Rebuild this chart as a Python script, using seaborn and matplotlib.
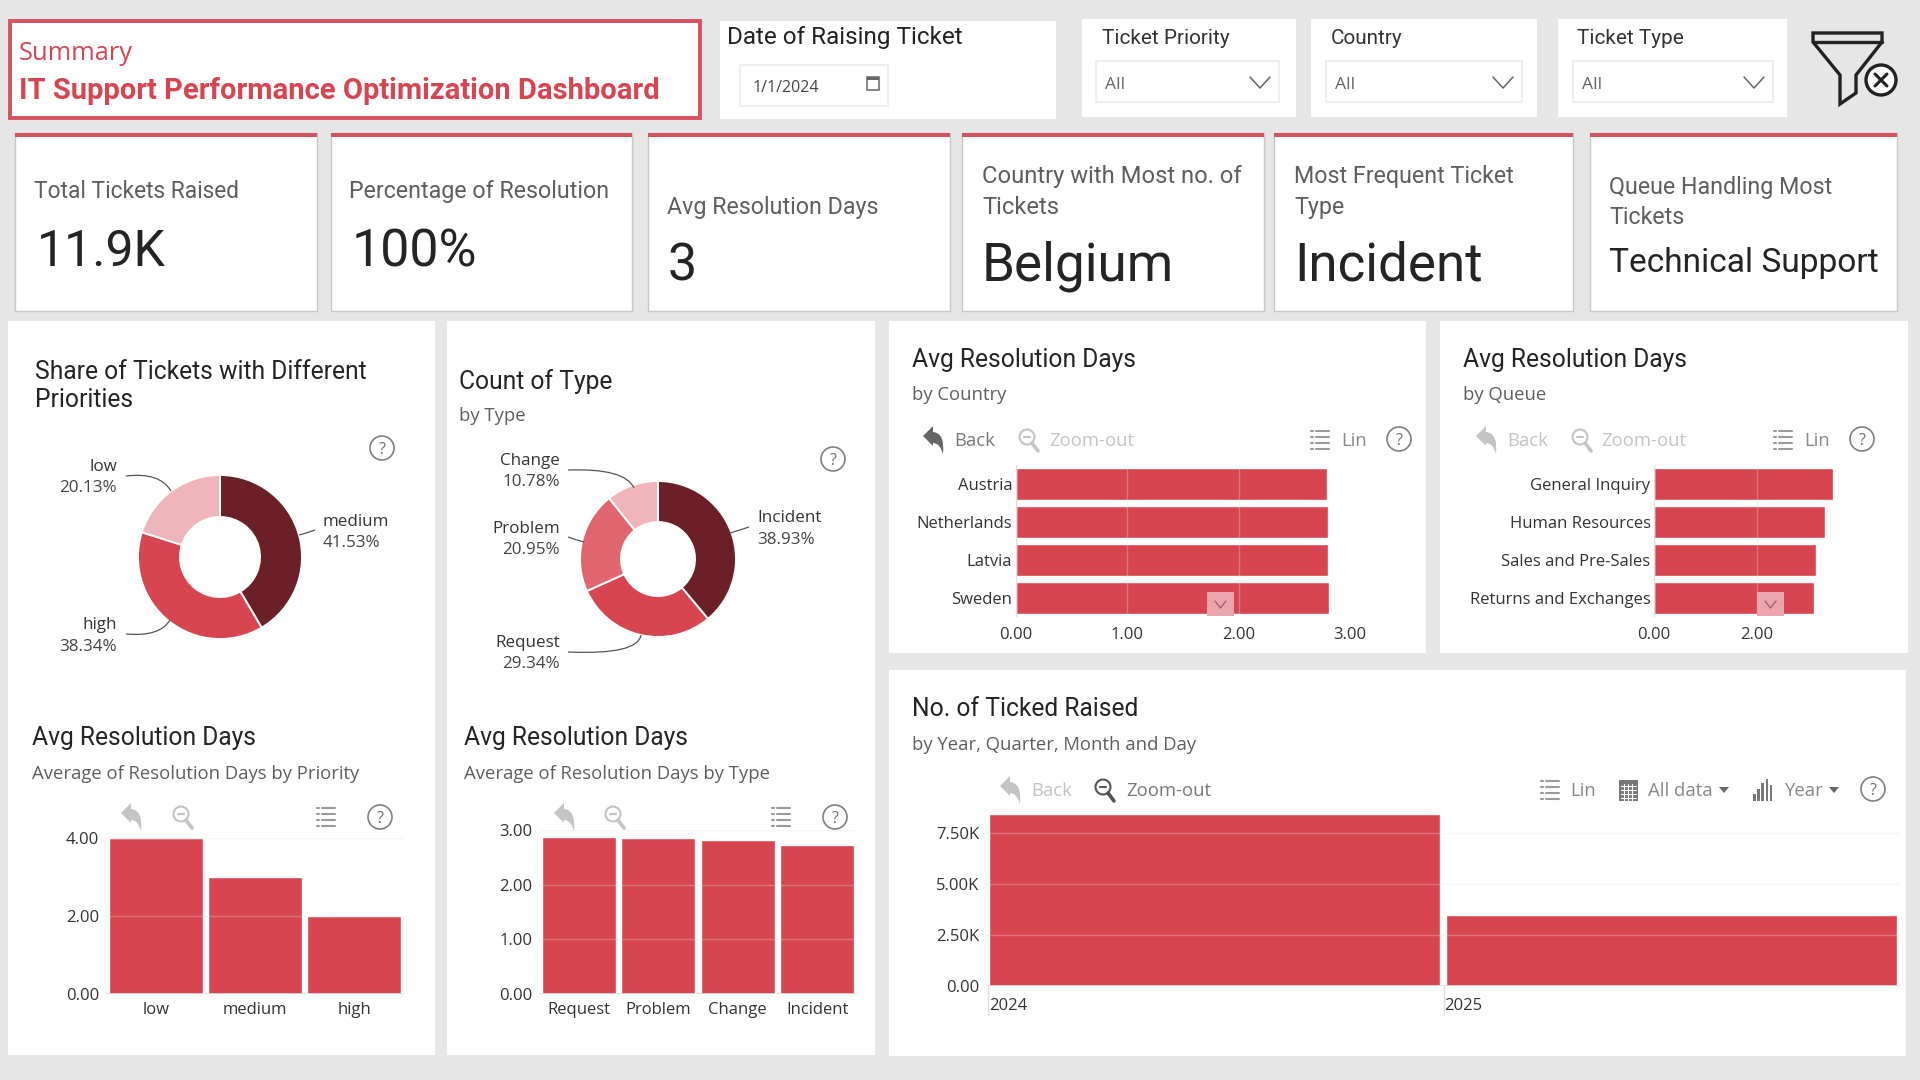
import pandas as pd
import matplotlib
matplotlib.use("Agg")
import matplotlib.pyplot as plt
import seaborn as sns
from matplotlib.patches import Circle, PathPatch, Polygon, Rectangle
from matplotlib.path import Path

# values
priority_share_labels = ["medium", "high", "low"]
priority_share_values = [41.53, 38.34, 20.13]
type_share_labels = ["Incident", "Request", "Problem", "Change"]
type_share_values = [38.93, 29.34, 20.95, 10.78]
countries = ["Austria", "Netherlands", "Latvia", "Sweden"]
country_days = [2.79, 2.80, 2.80, 2.81]
queues = ["General Inquiry", "Human Resources", "Sales and Pre-Sales", "Returns and Exchanges"]
queue_days = [3.47, 3.32, 3.15, 3.11]
priorities = ["low", "medium", "high"]
priority_days = [4.00, 3.00, 2.00]
ticket_types = ["Request", "Problem", "Change", "Incident"]
type_days = [2.87, 2.85, 2.82, 2.73]
years = ["2024", "2025"]
year_tickets = [8430, 3460]

RED = "#d64550"
DARK = "#6b2028"
LIGHT = "#f0b5ba"
MIDLIGHT = "#e0656f"
BG = "#e6e6e6"
DIN = "Roboto"
UI = "Open Sans"

sns.set_theme(style="white")
plt.rcParams["font.family"] = [UI, "DejaVu Sans"]

fig = plt.figure(figsize=(19.2, 10.8), dpi=100, facecolor=BG)


def pixel_axes(left, top, right, bottom, z=1):
    ax = fig.add_axes([left / 1920, 1 - bottom / 1080, (right - left) / 1920, (bottom - top) / 1080], zorder=z)
    ax.patch.set_alpha(0)
    return ax


def overlay(z):
    ax = pixel_axes(0, 0, 1920, 1080, z)
    ax.set_xlim(0, 1920)
    ax.set_ylim(1080, 0)
    ax.axis("off")
    return ax


back = overlay(0)
top = overlay(5)


def txt(x, y, s, px, color="#222222", family=UI, ha="left", weight="normal"):
    top.text(x, y - 1.3, s, fontsize=px * 0.72, color=color, family=family, ha=ha, va="center_baseline", fontweight=weight)


def card(x0, y0, x1, y1, edge=None, stripe=False):
    back.add_patch(Rectangle((x0, y0), x1 - x0, y1 - y0, fc="white", ec=edge or "none", lw=1))
    if stripe:
        back.add_patch(Rectangle((x0, y0), x1 - x0, 4, fc="#d4525c", ec="none"))


def help_icon(x, y):
    top.add_patch(Circle((x, y), 12, fc="none", ec="#808080", lw=1.2))
    txt(x, y + 1, "?", 16, "#707070", ha="center")


def back_icon(x, y, color):
    verts = [(-11, -4), (-1, -14), (-1, -8), (11, -7), (9, 14), (6, 3), (-1, 3), (-1, 6), (-11, -4)]
    codes = [Path.MOVETO, Path.LINETO, Path.LINETO, Path.CURVE3, Path.CURVE3, Path.CURVE3, Path.CURVE3, Path.LINETO, Path.CLOSEPOLY]
    top.add_patch(PathPatch(Path([(x + a, y + b) for a, b in verts], codes), fc=color, ec="none"))


def zoom_icon(x, y, color):
    top.add_patch(Circle((x - 2, y - 3), 7.5, fc="none", ec=color, lw=1.5))
    top.plot([x - 5, x + 1], [y - 3, y - 3], color=color, lw=1.5)
    top.plot([x + 3, x + 9], [y + 3, y + 11], color=color, lw=2.6)


def list_icon(x, y, color):
    for dy in (-9, -3, 3, 9):
        top.plot([x - 9, x - 7], [y + dy, y + dy], color=color, lw=1.5)
        top.plot([x - 4, x + 9], [y + dy, y + dy], color=color, lw=1.5)


def chevron(x, y):
    top.plot([x - 10, x, x + 10], [y - 5, y + 6, y - 5], color="#666666", lw=1.1)


def caret(x, y):
    top.add_patch(Polygon([(x - 5, y - 3), (x + 5, y - 3), (x, y + 3)], fc="#666666", ec="none"))


def leader(start, ctrl, end):
    path = Path([start, ctrl, end], [Path.MOVETO, Path.CURVE3, Path.CURVE3])
    top.add_patch(PathPatch(path, fc="none", ec="#555555", lw=0.9))


# cards
card(10, 21, 700, 118, edge="#d8505c")
back.patches[-1].set_linewidth(2.8)
card(720, 21, 1056, 119)
for x0, x1 in [(1082, 1296), (1311, 1537), (1558, 1787)]:
    card(x0, 19, x1, 117)
for x0, x1 in [(15, 317), (331, 632), (648, 950), (962, 1264), (1274, 1573), (1590, 1897)]:
    card(x0, 133, x1, 311, edge="#c8c8c8", stripe=True)
card(8, 321, 435, 1055)
card(447, 321, 875, 1055)
card(889, 321, 1426, 653)
card(1440, 321, 1908, 653)
card(889, 670, 1906, 1056)

# header
txt(19, 52, "Summary", 25.5, RED)
txt(19, 89, "IT Support Performance Optimization Dashboard", 29.1, RED, DIN, weight="bold")
txt(727, 36, "Date of Raising Ticket", 24.3, "#222222", DIN)
back.add_patch(Rectangle((740, 65), 148, 41, fc="white", ec="#eeeeee", lw=1.5))
txt(753, 87, "1/1/2024", 16, "#444444")
top.add_patch(Rectangle((867, 77), 12, 13, fc="none", ec="#666666", lw=1.1))
top.add_patch(Rectangle((867, 77), 12, 3, fc="#666666", ec="none"))

for label, x, box0, box1 in [("Ticket Priority", 1102, 1096, 1279), ("Country", 1331, 1326, 1522), ("Ticket Type", 1577, 1573, 1773)]:
    txt(x, 38, label, 20.8, "#333333", DIN)
    back.add_patch(Rectangle((box0, 61), box1 - box0, 41, fc="white", ec="#eeeeee", lw=1.5))
    txt(box0 + 9, 84, "All", 17.5, "#666666")
    chevron(box1 - 19, 82)

# clear filter icon
top.add_patch(Polygon([(1813, 33), (1882, 33), (1882, 42), (1856, 75), (1856, 93), (1840, 104), (1840, 75), (1813, 42)], fc="none", ec="#222222", lw=2.4))
top.plot([1813, 1882], [42, 42], color="#222222", lw=2.4)
top.add_patch(Circle((1881, 80), 15, fc="white", ec="#222222", lw=2.4, zorder=4))
top.plot([1875, 1887], [74, 86], color="#222222", lw=2.2, zorder=5)
top.plot([1875, 1887], [86, 74], color="#222222", lw=2.2, zorder=5)

# KPI cards
GREY = "#605e5c"
txt(34, 190, "Total Tickets Raised", 22.7, GREY, DIN)
txt(37, 248, "11.9K", 50, "#252423", DIN)
txt(349, 190, "Percentage of Resolution", 23.2, GREY, DIN)
txt(352, 248, "100%", 52, "#252423", DIN)
txt(667, 206, "Avg Resolution Days", 23.2, GREY, DIN)
txt(668, 262, "3", 52, "#252423", DIN)
txt(982, 175, "Country with Most no. of", 23.7, GREY, DIN)
txt(982, 206, "Tickets", 23.7, GREY, DIN)
txt(982, 262, "Belgium", 53, "#252423", DIN)
txt(1294, 175, "Most Frequent Ticket", 23.3, GREY, DIN)
txt(1294, 206, "Type", 23.3, GREY, DIN)
txt(1294, 262, "Incident", 53, "#252423", DIN)
txt(1609, 186, "Queue Handling Most", 23.3, GREY, DIN)
txt(1609, 216, "Tickets", 23.3, GREY, DIN)
txt(1609, 261, "Technical Support", 33.5, "#252423", DIN)

# panel titles
TITLE = "#252423"
SUB = "#605e5c"
TITLE_PX = 24.6
txt(35, 371, "Share of Tickets with Different", TITLE_PX, TITLE, DIN)
txt(35, 399, "Priorities", TITLE_PX, TITLE, DIN)
txt(459, 380, "Count of Type", TITLE_PX, TITLE, DIN)
txt(459, 415, "by Type", 18.5, SUB)
txt(912, 359, "Avg Resolution Days", TITLE_PX, TITLE, DIN)
txt(912, 394, "by Country", 18.5, SUB)
txt(1463, 359, "Avg Resolution Days", TITLE_PX, TITLE, DIN)
txt(1463, 394, "by Queue", 18.5, SUB)
txt(32, 737, "Avg Resolution Days", TITLE_PX, TITLE, DIN)
txt(32, 773, "Average of Resolution Days by Priority", 18.5, SUB)
txt(464, 737, "Avg Resolution Days", TITLE_PX, TITLE, DIN)
txt(464, 773, "Average of Resolution Days by Type", 18.5, SUB)
txt(912, 708, "No. of Ticked Raised", TITLE_PX, TITLE, DIN)
txt(912, 744, "by Year, Quarter, Month and Day", 18.5, SUB)

# toolbars
ON = "#666666"
OFF = "#c4c4c4"
MID = "#9a9a9a"
back_icon(934, 440, ON)
txt(954, 440, "Back", 18.5, "#777777")
zoom_icon(1029, 440, OFF)
txt(1049, 440, "Zoom-out", 18.5, OFF)
list_icon(1320, 440, MID)
txt(1341, 440, "Lin", 18.5, "#888888")
back_icon(1487, 440, OFF)
txt(1507, 440, "Back", 18.5, OFF)
zoom_icon(1582, 440, OFF)
txt(1601, 440, "Zoom-out", 18.5, OFF)
list_icon(1783, 440, MID)
txt(1804, 440, "Lin", 18.5, "#888888")
back_icon(132, 817, OFF)
zoom_icon(183, 817, OFF)
list_icon(326, 817, MID)
back_icon(565, 817, OFF)
zoom_icon(615, 817, OFF)
list_icon(781, 817, MID)
back_icon(1011, 790, OFF)
txt(1031, 790, "Back", 18.5, OFF)
zoom_icon(1105, 790, "#555555")
txt(1126, 790, "Zoom-out", 18.5, "#777777")
list_icon(1550, 790, MID)
txt(1570, 790, "Lin", 18.5, "#888888")
top.add_patch(Rectangle((1619, 780), 19, 21, fc="#777777", ec="none"))
for gy in (786, 790, 794, 798):
    top.plot([1621, 1636], [gy, gy], color="white", lw=0.8)
for gx in (1624, 1628, 1632):
    top.plot([gx, gx], [784, 800], color="white", lw=0.8)
txt(1648, 790, "All data", 18.5, "#888888")
caret(1724, 790)
for i, h in enumerate([7, 12, 18, 22, 16]):
    top.add_patch(Rectangle((1753 + i * 4.2, 801 - h), 2.6, h, fc="#777777", ec="none"))
txt(1784, 790, "Year", 18.5, "#888888")
caret(1834, 790)
for x, y in [(382, 448), (833, 459), (1399, 439), (1862, 439), (380, 817), (835, 817), (1873, 789)]:
    help_icon(x, y)


def donut(cx, cy, radius, hole, values, colors):
    ax = pixel_axes(cx - radius, cy - radius, cx + radius, cy + radius)
    ax.pie(values, colors=colors, startangle=90, counterclock=False, radius=1,
           wedgeprops={"width": 1 - hole / radius, "edgecolor": "white", "linewidth": 1.4})
    ax.set_xlim(-1, 1)
    ax.set_ylim(-1, 1)


donut(220, 557, 82, 40, priority_share_values, [DARK, RED, LIGHT])
donut(658, 559, 78, 37, type_share_values, [DARK, RED, MIDLIGHT, LIGHT])

# donut labels
LAB = 17
txt(323, 521, priority_share_labels[0], LAB, "#333333")
txt(323, 542, f"{priority_share_values[0]:.2f}%", LAB, "#444444")
txt(117, 624, priority_share_labels[1], LAB, "#333333", ha="right")
txt(117, 646, f"{priority_share_values[1]:.2f}%", LAB, "#444444", ha="right")
txt(117, 466, priority_share_labels[2], LAB, "#333333", ha="right")
txt(117, 487, f"{priority_share_values[2]:.2f}%", LAB, "#444444", ha="right")
leader((315, 530), (307, 533), (299, 535))
leader((126, 634), (160, 637), (170, 620))
leader((126, 476), (160, 472), (171, 491))

txt(757, 517, type_share_labels[0], LAB, "#333333")
txt(757, 539, f"{type_share_values[0]:.2f}%", LAB, "#444444")
txt(560, 642, type_share_labels[1], LAB, "#333333", ha="right")
txt(560, 663, f"{type_share_values[1]:.2f}%", LAB, "#444444", ha="right")
txt(560, 528, type_share_labels[2], LAB, "#333333", ha="right")
txt(560, 549, f"{type_share_values[2]:.2f}%", LAB, "#444444", ha="right")
txt(560, 460, type_share_labels[3], LAB, "#333333", ha="right")
txt(560, 481, f"{type_share_values[3]:.2f}%", LAB, "#444444", ha="right")
leader((749, 527), (740, 530), (730, 533))
leader((568, 652), (638, 655), (641, 635))
leader((568, 537), (576, 540), (584, 542))
leader((568, 470), (625, 468), (634, 488))


def style_axes(ax, value_axis):
    sns.despine(ax=ax, left=True, bottom=True)
    ax.set_axisbelow(False)
    ax.grid(False)
    ax.grid(axis=value_axis, color="#e4e4e4", alpha=0.3, lw=1)
    ax.set_xlabel("")
    ax.set_ylabel("")
    ax.tick_params(axis="both", labelsize=12, labelcolor="#333333", color="#cccccc", length=0, pad=2.5)


def hbars(box, names, vals, limit, ticks):
    ax = pixel_axes(*box)
    df = pd.DataFrame({"name": names, "days": vals})
    sns.barplot(data=df, y="name", x="days", color=RED, saturation=1, width=0.85, ax=ax)
    ax.set_xlim(0, limit)
    ax.set_xticks(ticks, [f"{t:.2f}" for t in ticks])
    style_axes(ax, "x")
    ax.axvline(0, color="#dddddd", lw=1)
    ax.tick_params(axis="x", pad=7)
    return ax


def vbars(box, names, vals, width, limit, ticks):
    ax = pixel_axes(*box)
    df = pd.DataFrame({"name": names, "days": vals})
    sns.barplot(data=df, x="name", y="days", color=RED, saturation=1, width=width, ax=ax)
    ax.set_ylim(0, limit)
    ax.set_yticks(ticks, [f"{t:.2f}" for t in ticks])
    style_axes(ax, "y")
    ax.axhline(0, color="#dddddd", lw=1.2)
    ax.tick_params(axis="x", pad=5.5)
    ax.tick_params(axis="y", length=3, pad=2)
    return ax


hbars((1015.6, 465, 1350.2, 617), countries, country_days, 3, [0, 1, 2, 3])
hbars((1654, 465, 1860, 617), queues, queue_days, 4, [0, 2])
vbars((106, 838, 404, 994), priorities, priority_days, 0.945, 4, [0, 2, 4])
vbars((539, 830, 857, 994), ticket_types, type_days, 0.93, 3, [0, 1, 2, 3])

# time chart, bar labels start at the left edge of each bar
ax = pixel_axes(986.4, 810.6, 1899.6, 986)
df = pd.DataFrame({"year": years, "tickets": year_tickets})
sns.barplot(data=df, x="year", y="tickets", color=RED, saturation=1, width=0.987, ax=ax)
ax.set_xlim(-0.5, 1.5)
ax.set_ylim(0, 8600)
ax.set_yticks([0, 2500, 5000, 7500], ["0.00", "2.50K", "5.00K", "7.50K"])
style_axes(ax, "y")
ax.axhline(0, color="#dddddd", lw=1.2)
ax.tick_params(axis="y", length=3, pad=2)
ax.set_xticks([-0.495, 0.503], years, ha="left")
ax.tick_params(axis="x", pad=9)
top.plot([988, 988], [986, 1015], color="#dddddd", lw=1)
top.plot([1444, 1444], [986, 1015], color="#dddddd", lw=1)

# scroll handles over the horizontal bars
for x0 in (1207, 1757):
    top.add_patch(Rectangle((x0, 592), 27, 24, fc="#eba5ac", ec="none"))
    top.plot([x0 + 8, x0 + 13.5, x0 + 19], [601, 608, 601], color="#a0656c", lw=1)

fig.savefig("out.png", dpi=100, facecolor=BG)
